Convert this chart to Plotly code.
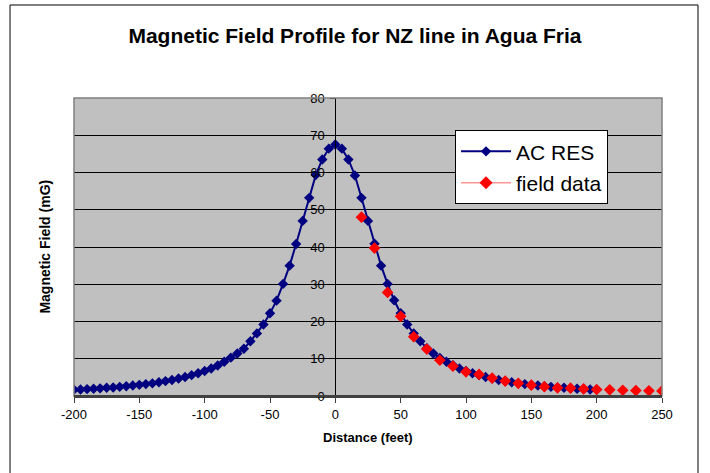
import plotly.graph_objects as go

# AC RES model, -200..200 step 5
ac_x = list(range(-200, 205, 5))
ac_y = [1.7, 1.75, 1.85, 1.95, 2.05, 2.2, 2.3, 2.45, 2.6, 2.8,
        3.0, 3.2, 3.4, 3.7, 4.0, 4.3, 4.7, 5.1, 5.6, 6.1,
        6.7, 7.4, 8.2, 9.2, 10.3, 11.4, 12.7, 14.7, 16.8, 19.2,
        22.2, 25.6, 30.1, 35.0, 40.8, 47.0, 53.2, 59.3, 63.5, 66.4,
        67.5,
        66.4, 63.5, 59.2, 53.2, 47.0, 40.9, 35.0, 30.1, 25.7, 22.2,
        19.2, 16.8, 14.7, 12.8, 11.4, 10.2, 9.2, 8.3, 7.4, 6.7,
        6.1, 5.6, 5.1, 4.7, 4.3, 4.0, 3.7, 3.4, 3.2, 3.0,
        2.8, 2.6, 2.45, 2.3, 2.2, 2.05, 1.95, 1.85, 1.75, 1.7]

# field data, 20..250 step 10
fd_x = list(range(20, 260, 10))
fd_y = [48.0, 39.7, 27.8, 21.4, 15.9, 12.6, 9.6, 8.0, 6.5, 5.8,
        4.8, 4.0, 3.4, 2.9, 2.5, 2.2, 2.1, 1.9, 1.75, 1.65,
        1.55, 1.45, 1.4, 1.35]

x_ticks = [-200, -150, -100, -50, 0, 50, 100, 150, 200, 250]
y_ticks = [0, 10, 20, 30, 40, 50, 60, 70, 80]

FONT = "Arial, Liberation Sans, sans-serif"

fig = go.Figure()
fig.add_trace(go.Scatter(
    x=ac_x, y=ac_y, mode="lines+markers", name="AC RES",
    line=dict(color="#000080", width=2),
    marker=dict(symbol="diamond", size=8, color="#000080"),
    legendgroup="a",
))
fig.add_trace(go.Scatter(
    x=fd_x, y=fd_y, mode="markers", name="field data",
    marker=dict(symbol="diamond", size=9, color="#FF0000"),
    showlegend=False, legendgroup="b",
))
# legend entry for field data (line shown only in legend)
fig.add_trace(go.Scatter(
    x=[None], y=[None], mode="lines+markers", name="field data",
    line=dict(color="rgba(255,80,80,0.6)", width=1.5),
    marker=dict(symbol="diamond", size=10, color="#FF0000"),
    legendgroup="b",
))

fig.update_layout(
    width=710, height=473,
    margin=dict(l=74, r=48, t=98, b=77),
    paper_bgcolor="white",
    plot_bgcolor="#C0C0C0",
    font=dict(family=FONT, color="black", size=12),
    title=dict(text="<b>Magnetic Field Profile for NZ line in Agua Fria</b>",
               x=0.5, xanchor="center", y=0.925, yanchor="middle",
               font=dict(size=21, family=FONT, color="black")),
    showlegend=True,
    legend=dict(x=0.648, y=0.892, xanchor="left", yanchor="top",
                bgcolor="white", bordercolor="black", borderwidth=1,
                font=dict(size=21, family=FONT, color="black"),
                traceorder="grouped", tracegroupgap=1, itemwidth=50),
    xaxis=dict(range=[-200, 250], tickvals=x_ticks,
               ticktext=[str(v) for v in x_ticks],
               showgrid=False, zeroline=False,
               showline=True, linecolor="#404040", linewidth=2,
               ticks="outside", ticklen=5, tickcolor="#404040",
               tickfont=dict(size=13, family=FONT, color="black")),
    yaxis=dict(range=[0, 80], tickvals=y_ticks,
               ticktext=[str(v) for v in y_ticks],
               showgrid=True, gridcolor="black", gridwidth=1,
               zeroline=False, anchor="free", position=200 / 450,
               showline=True, linecolor="black", linewidth=1,
               ticks="outside", ticklen=5, tickcolor="black",
               ticklabelstandoff=3,
               tickfont=dict(size=13, family=FONT, color="black")),
    annotations=[
        dict(text="<b>Distance (feet)</b>", xref="paper", yref="paper",
             x=0.5, y=-0.14, xanchor="center", yanchor="middle",
             showarrow=False, font=dict(size=13, family=FONT, color="black")),
        dict(text="<b>Magnetic Field (mG)</b>", xref="paper", yref="paper",
             x=-0.05, y=0.5, xanchor="center", yanchor="middle", textangle=-90,
             showarrow=False, font=dict(size=14, family=FONT, color="black")),
    ],
    shapes=[
        dict(type="rect", xref="paper", yref="paper", x0=0, x1=1, y0=0, y1=1,
             line=dict(color="#808080", width=1.5), layer="above"),
        dict(type="line", xref="paper", yref="paper", x0=0, x1=1, y0=0, y1=0,
             line=dict(color="#404040", width=2), layer="above"),
    ],
)

# outer chart border
fig.add_shape(type="path", xref="paper", yref="paper",
              path="M -0.1088,-0.30 L -0.1088,1.3121 L 1.0612,1.3121 L 1.0612,-0.30",
              line=dict(color="black", width=1), layer="above")

fig.write_html("out.html",
               config={"displayModeBar": False},
               post_script="document.body.style.margin='0';document.body.style.padding='0';")
